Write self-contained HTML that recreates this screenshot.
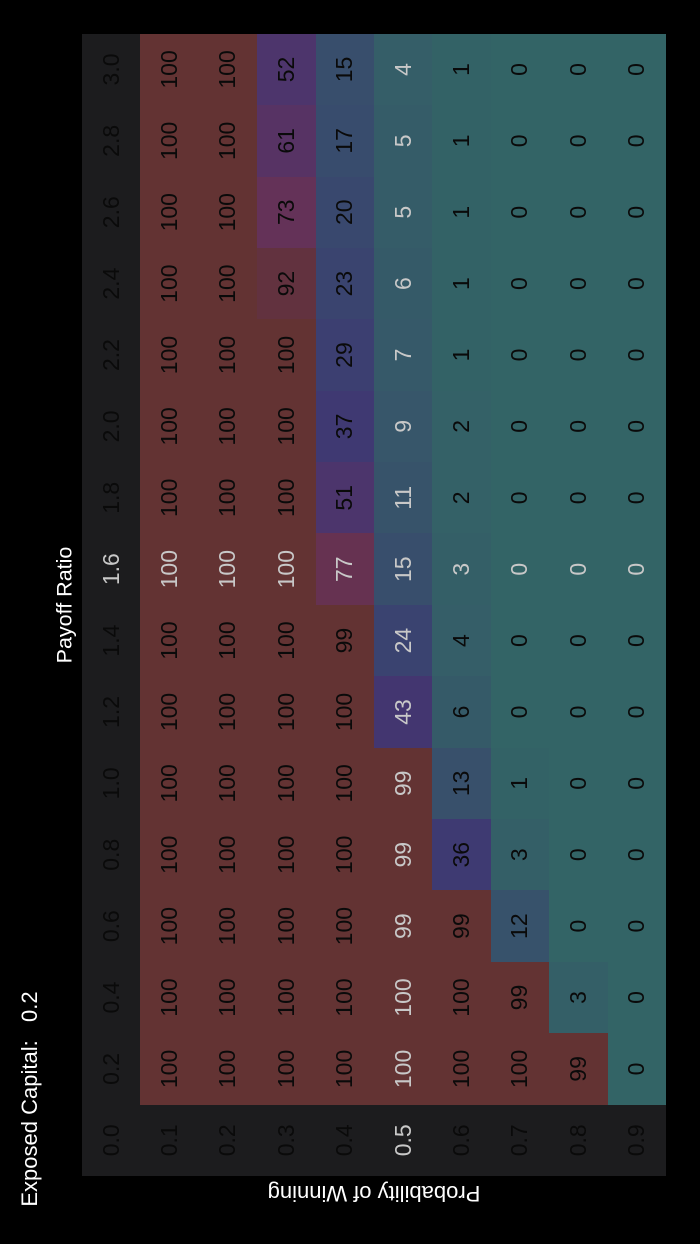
<!DOCTYPE html>
<html><head><meta charset="utf-8"><style>
html,body{margin:0;padding:0;background:#000;}
body{width:700px;height:1244px;position:relative;overflow:hidden;font-family:"Liberation Sans",sans-serif;}
#t{position:absolute;left:-197px;top:313px;width:1142px;height:584px;transform:rotate(-90deg);transform-origin:571px 292px;}
table{border-collapse:collapse;width:1142px;height:584px;table-layout:fixed;}
td{width:71.4px;height:58.4px;padding:0;text-align:center;vertical-align:middle;font-size:23px;color:#0a0a0a;background:#336466;}
td.h{background:#1c1c1e;}
td.l{color:#c8c8c8;}
.r{background:#633333;}
#pr{position:absolute;left:65px;top:605px;transform:translate(-50%,-50%) rotate(-90deg);color:#fff;font-size:21.5px;white-space:nowrap;}
#pw{position:absolute;left:374px;top:1193px;transform:translate(-50%,-50%) rotate(180deg);color:#fff;font-size:22px;white-space:nowrap;}
#ec{position:absolute;left:30px;top:1099px;transform:translate(-50%,-50%) rotate(-90deg);color:#fff;font-size:22px;white-space:pre;}
</style></head><body>
<div id="pr">Payoff Ratio</div>
<div id="pw">Probability of Winning</div>
<div id="ec">Exposed Capital:   0.2</div>
<div id="t"><table>
<tr><td class="h">0.0</td><td class="h">0.2</td><td class="h">0.4</td><td class="h">0.6</td><td class="h">0.8</td><td class="h">1.0</td><td class="h">1.2</td><td class="h">1.4</td><td class="h l">1.6</td><td class="h">1.8</td><td class="h">2.0</td><td class="h">2.2</td><td class="h">2.4</td><td class="h">2.6</td><td class="h">2.8</td><td class="h">3.0</td></tr>
<tr><td class="h">0.1</td><td class="r">100</td><td class="r">100</td><td class="r">100</td><td class="r">100</td><td class="r">100</td><td class="r">100</td><td class="r">100</td><td class="r l">100</td><td class="r">100</td><td class="r">100</td><td class="r">100</td><td class="r">100</td><td class="r">100</td><td class="r">100</td><td class="r">100</td></tr>
<tr><td class="h">0.2</td><td class="r">100</td><td class="r">100</td><td class="r">100</td><td class="r">100</td><td class="r">100</td><td class="r">100</td><td class="r">100</td><td class="r l">100</td><td class="r">100</td><td class="r">100</td><td class="r">100</td><td class="r">100</td><td class="r">100</td><td class="r">100</td><td class="r">100</td></tr>
<tr><td class="h">0.3</td><td class="r">100</td><td class="r">100</td><td class="r">100</td><td class="r">100</td><td class="r">100</td><td class="r">100</td><td class="r">100</td><td class="r l">100</td><td class="r">100</td><td class="r">100</td><td class="r">100</td><td style="background:#62323f">92</td><td style="background:#643258">73</td><td style="background:#573364">61</td><td style="background:#4d356c">52</td></tr>
<tr><td class="h">0.4</td><td class="r">100</td><td class="r">100</td><td class="r">100</td><td class="r">100</td><td class="r">100</td><td class="r">100</td><td class="r">99</td><td class="l" style="background:#663251">77</td><td style="background:#4c356c">51</td><td style="background:#3f3972">37</td><td style="background:#3c3f71">29</td><td style="background:#3a446f">23</td><td style="background:#39486e">20</td><td style="background:#384c6d">17</td><td style="background:#384e6c">15</td></tr>
<tr><td class="h l">0.5</td><td class="r l">100</td><td class="r l">100</td><td class="r l">99</td><td class="r l">99</td><td class="r l">99</td><td class="l" style="background:#433670">43</td><td class="l" style="background:#3a4370">24</td><td class="l" style="background:#384e6c">15</td><td class="l" style="background:#37536a">11</td><td class="l" style="background:#37566a">9</td><td class="l" style="background:#365969">7</td><td class="l" style="background:#355a68">6</td><td class="l" style="background:#355c68">5</td><td class="l" style="background:#355c68">5</td><td class="l" style="background:#355e68">4</td></tr>
<tr><td class="h">0.6</td><td class="r">100</td><td class="r">100</td><td class="r">99</td><td style="background:#3e3a72">36</td><td style="background:#38506b">13</td><td style="background:#355a68">6</td><td style="background:#355e68">4</td><td class="l" style="background:#345f67">3</td><td style="background:#346167">2</td><td style="background:#346167">2</td><td style="background:#336266">1</td><td style="background:#336266">1</td><td style="background:#336266">1</td><td style="background:#336266">1</td><td style="background:#336266">1</td></tr>
<tr><td class="h">0.7</td><td class="r">100</td><td class="r">99</td><td style="background:#37526b">12</td><td style="background:#345f67">3</td><td style="background:#336266">1</td><td>0</td><td>0</td><td class="l">0</td><td>0</td><td>0</td><td>0</td><td>0</td><td>0</td><td>0</td><td>0</td></tr>
<tr><td class="h">0.8</td><td class="r">99</td><td style="background:#345f67">3</td><td>0</td><td>0</td><td>0</td><td>0</td><td>0</td><td class="l">0</td><td>0</td><td>0</td><td>0</td><td>0</td><td>0</td><td>0</td><td>0</td></tr>
<tr><td class="h">0.9</td><td>0</td><td>0</td><td>0</td><td>0</td><td>0</td><td>0</td><td>0</td><td class="l">0</td><td>0</td><td>0</td><td>0</td><td>0</td><td>0</td><td>0</td><td>0</td></tr>
</table></div>
</body></html>
